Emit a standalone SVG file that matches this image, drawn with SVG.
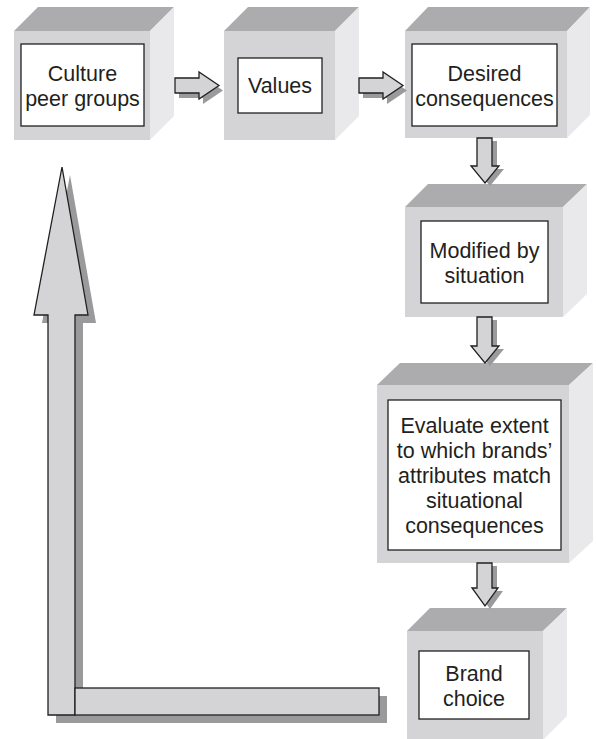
<svg xmlns="http://www.w3.org/2000/svg" width="596" height="739" viewBox="0 0 596 739">
<style>
.front{fill:#d4d4d6}
.top{fill:#acacae}
.side{fill:#e9e9eb}
.inner{fill:#ffffff;stroke:#231f20;stroke-width:1.3}
.lbl{font-family:"Liberation Sans",Arial,sans-serif;font-size:21.5px;fill:#231f20;text-anchor:middle}
.arr{fill:#d4d4d6;stroke:#231f20;stroke-width:1.3;stroke-linejoin:miter}
.shd{fill:#9a9a9c}
</style>
<rect width="596" height="739" fill="#ffffff"/>
<g id="node-culture">
<polygon class="top" points="14,31 38,7 174,7 150,31"/>
<polygon class="side" points="150,31 174,7 174,116 150,140"/>
<rect class="front" x="14" y="31" width="136" height="109"/>
<rect class="inner" x="21" y="44" width="123" height="82"/>
<text class="lbl" x="82.5" y="81">Culture</text>
<text class="lbl" x="82.5" y="106">peer groups</text>
</g>
<g id="node-values">
<polygon class="top" points="224,31 248,7 359,7 335,31"/>
<polygon class="side" points="335,31 359,7 359,116 335,140"/>
<rect class="front" x="224" y="31" width="111" height="109"/>
<rect class="inner" x="238" y="58" width="84" height="55"/>
<text class="lbl" x="280" y="93">Values</text>
</g>
<g id="node-desired">
<polygon class="top" points="405,31 428,7 590,7 567,31"/>
<polygon class="side" points="567,31 590,7 590,115 567,138"/>
<rect class="front" x="405" y="31" width="162" height="107"/>
<rect class="inner" x="412" y="44" width="145" height="82"/>
<text class="lbl" x="484.5" y="81">Desired</text>
<text class="lbl" x="484.5" y="106">consequences</text>
</g>
<g id="node-modified">
<polygon class="top" points="405,207 428,184 587,184 563,207"/>
<polygon class="side" points="563,207 587,184 587,294 563,317"/>
<rect class="front" x="405" y="207" width="158" height="110"/>
<rect class="inner" x="421" y="221" width="127" height="82"/>
<text class="lbl" x="484.5" y="257.5">Modified by</text>
<text class="lbl" x="484.5" y="282.5">situation</text>
</g>
<g id="node-evaluate">
<polygon class="top" points="377,385 400,363 593,363 569,385"/>
<polygon class="side" points="569,385 593,363 593,541 569,563"/>
<rect class="front" x="377" y="385" width="192" height="178"/>
<rect class="inner" x="388" y="400" width="173" height="150"/>
<text class="lbl" x="474.5" y="433">Evaluate extent</text>
<text class="lbl" x="474.5" y="458">to which brands’</text>
<text class="lbl" x="474.5" y="483">attributes match</text>
<text class="lbl" x="474.5" y="508">situational</text>
<text class="lbl" x="474.5" y="533">consequences</text>
</g>
<g id="node-brand">
<polygon class="top" points="407,631 430,608 567,608 543,631"/>
<polygon class="side" points="543,631 567,608 567,716 543,740"/>
<rect class="front" x="407" y="631" width="136" height="109"/>
<rect class="inner" x="419" y="651" width="110" height="68"/>
<text class="lbl" x="474" y="681">Brand</text>
<text class="lbl" x="474" y="706">choice</text>
</g>
<g id="connectors">
<g id="arrow-culture-values">
<polygon class="shd" transform="translate(4,5)" points="175,78 199,78 199,72 219,85.5 199,99 199,93 175,93"/>
<polygon class="arr" points="175,78 199,78 199,72 219,85.5 199,99 199,93 175,93"/>
</g>
<g id="arrow-values-desired">
<polygon class="shd" transform="translate(4,5)" points="359,78 383,78 383,72 403,85.5 383,99 383,93 359,93"/>
<polygon class="arr" points="359,78 383,78 383,72 403,85.5 383,99 383,93 359,93"/>
</g>
<g id="arrow-desired-modified">
<polygon class="shd" transform="translate(5,3)" points="477,138 492,138 492,166 499,166 485,183 471,166 477,166"/>
<polygon class="arr" points="477,138 492,138 492,166 499,166 485,183 471,166 477,166"/>
</g>
<g id="arrow-modified-evaluate">
<polygon class="shd" transform="translate(5,3)" points="477,317 492,317 492,346 499,346 485,363 471,346 477,346"/>
<polygon class="arr" points="477,317 492,317 492,346 499,346 485,363 471,346 477,346"/>
</g>
<g id="arrow-evaluate-brand">
<polygon class="shd" transform="translate(5,3)" points="477,563 492,563 492,588 498,588 485,606 472,588 477,588"/>
<polygon class="arr" points="477,563 492,563 492,588 498,588 485,606 472,588 477,588"/>
</g>
<g id="arrow-feedback">
<g class="shd" transform="translate(8,8)">
<polygon points="62,167 88,315 75,315 75,715 48,715 48,315 34,315"/>
<rect x="75" y="688" width="304" height="27"/>
</g>
<polygon class="arr" points="62,167 88,315 75,315 75,715 48,715 48,315 34,315"/>
<rect class="arr" x="75" y="688" width="304" height="27"/>
</g>
</g>
</svg>
